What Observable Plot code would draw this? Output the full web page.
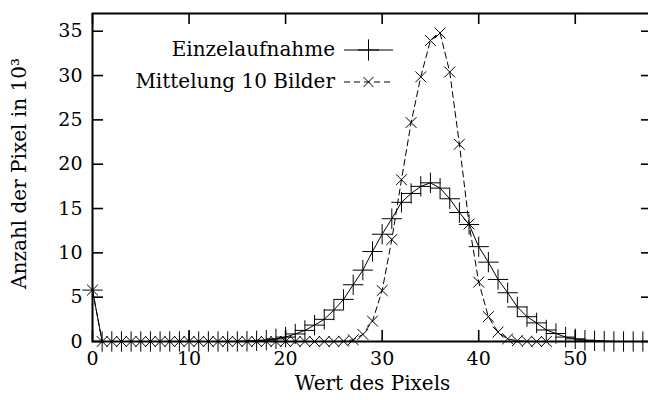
<!DOCTYPE html>
<html>
<head>
<meta charset="utf-8">
<script src="https://cdn.jsdelivr.net/npm/d3@7"></script>
<script src="https://cdn.jsdelivr.net/npm/@observablehq/plot@0.6"></script>
<style>
  html, body { margin: 0; padding: 0; background: #fff; overflow: hidden; }
  #chart { width: 648px; height: 400px; overflow: hidden; }
  #chart svg { display: block; max-width: none !important; }
</style>
</head>
<body>
<div id="chart"></div>
<script>
// Grauwert-Histogramm: Einzelaufnahme vs. Mittelung über 10 Bilder (Anzahl in 10^3)
const pixelWerte = [
  0, 1, 2, 3, 4, 5, 6, 7, 8, 9,
  10, 11, 12, 13, 14, 15, 16, 17, 18, 19,
  20, 21, 22, 23, 24, 25, 26, 27, 28, 29,
  30, 31, 32, 33, 34, 35, 36, 37, 38, 39,
  40, 41, 42, 43, 44, 45, 46, 47, 48, 49,
  50, 51, 52, 53, 54, 55, 56, 57
];

const einzelaufnahme = [
  5.8, 0, 0, 0, 0, 0, 0, 0, 0, 0,
  0, 0, 0, 0, 0, 0, 0.03, 0.08, 0.15, 0.3,
  0.5, 0.85, 1.25, 1.85, 2.5, 3.55, 4.75, 6.4, 8.05, 10.15,
  12.1, 13.85, 15.7, 16.7, 17.5, 17.9, 17.3, 16.1, 14.55, 13.2,
  10.7, 8.95, 7.0, 5.5, 3.9, 2.8, 2.1, 1.3, 0.9, 0.5,
  0.3, 0.15, 0.08, 0.03, 0, 0, 0, 0
];

const mittelung = [
  5.8, 0, 0, 0, 0, 0, 0, 0, 0, 0,
  0, 0, 0, 0, 0, 0, 0, 0, 0, 0,
  0, 0, 0, 0, 0, 0, 0.03, 0.2, 0.8, 2.3,
  5.75, 11.5, 18.25, 24.7, 29.85, 33.95, 34.8, 30.4, 22.25, 13.25,
  6.7, 2.8, 1.06, 0.3, 0.08, 0.02, 0, 0
];

const xTicks = [0, 10, 20, 30, 40, 50];
const yTicks = [0, 5, 10, 15, 20, 25, 30, 35];
const serien = ["Einzelaufnahme", "Mittelung 10 Bilder"];
const xTitel = "Wert des Pixels";
const yTitel = "Anzahl der Pixel in 10³";

const einzelDaten = einzelaufnahme.map((v, i) => ({x: pixelWerte[i], y: v}));
const mittelDaten = mittelung.map((v, i) => ({x: pixelWerte[i], y: v}));

const font = "'DejaVu Serif', serif";
const tickLen = 11;
const innerW = 560, innerH = 328;

// Die rechte Rahmenlinie liegt knapp außerhalb des sichtbaren Bereichs (648 px)
const chart = Plot.plot({
  width: 660,
  height: 400,
  marginLeft: 92,
  marginRight: 8,
  marginTop: 13,
  marginBottom: 59,
  style: {fontFamily: font, fontSize: "20px", color: "#000", background: "#fff", maxWidth: "none"},
  x: {domain: [0, 58]},
  y: {domain: [0, 37]},
  marks: [
    Plot.axisX(xTicks, {tickSize: 0, tickPadding: 10, label: null, fontSize: 19}),
    Plot.axisY(yTicks, {tickSize: 0, tickPadding: 10, label: null, fontSize: 19}),
    // innenliegende Teilstriche an allen vier Seiten
    Plot.tickX(xTicks, {x: d => d, insetTop: innerH - tickLen, stroke: "#000", strokeWidth: 1.6}),
    Plot.tickX(xTicks, {x: d => d, insetBottom: innerH - tickLen, stroke: "#000", strokeWidth: 1.6}),
    Plot.tickY(yTicks, {y: d => d, insetRight: innerW - tickLen, stroke: "#000", strokeWidth: 1.6}),
    Plot.tickY(yTicks, {y: d => d, insetLeft: innerW - tickLen, stroke: "#000", strokeWidth: 1.6}),
    Plot.line(einzelDaten, {x: "x", y: "y", stroke: "#000", strokeWidth: 1}),
    Plot.dot(einzelDaten, {x: "x", y: "y", symbol: "plus", r: 6.6, stroke: "#000", strokeWidth: 1}),
    Plot.line(mittelDaten, {x: "x", y: "y", stroke: "#000", strokeWidth: 1, strokeDasharray: "6,4"}),
    Plot.dot(mittelDaten, {x: "x", y: "y", symbol: "times", r: 5, stroke: "#000", strokeWidth: 1}),
    Plot.frame({stroke: "#000", strokeWidth: 2}),
    Plot.text([xTitel], {frameAnchor: "bottom", textAnchor: "middle", lineAnchor: "middle", dy: 42, fontSize: 20, fill: "#000"}),
    Plot.text([yTitel], {frameAnchor: "left", textAnchor: "middle", lineAnchor: "middle", dx: -73, dy: -4, rotate: -90, fontSize: 20, fill: "#000"})
  ]
});

// Legende oben links im Diagramm
const svg = d3.select(chart);
const legende = svg.append("g").attr("font-family", font).attr("font-size", 20);
const zeilen = [
  {name: serien[0], y: 50, dash: null, symbol: d3.symbolPlus, size: 150},
  {name: serien[1], y: 82, dash: "6,4", symbol: d3.symbolTimes, size: 67}
];
zeilen.forEach(z => {
  legende.append("text")
    .attr("x", 335).attr("y", z.y).attr("dy", "0.32em")
    .attr("text-anchor", "end").attr("fill", "#000")
    .text(z.name);
  legende.append("line")
    .attr("x1", 344).attr("x2", 393).attr("y1", z.y).attr("y2", z.y)
    .attr("stroke", "#000").attr("stroke-width", 1)
    .attr("stroke-dasharray", z.dash);
  legende.append("path")
    .attr("transform", `translate(368.5,${z.y})`)
    .attr("d", d3.symbol(z.symbol, z.size)())
    .attr("fill", "none").attr("stroke", "#000").attr("stroke-width", 1);
});

document.getElementById("chart").appendChild(chart);
</script>
</body>
</html>
